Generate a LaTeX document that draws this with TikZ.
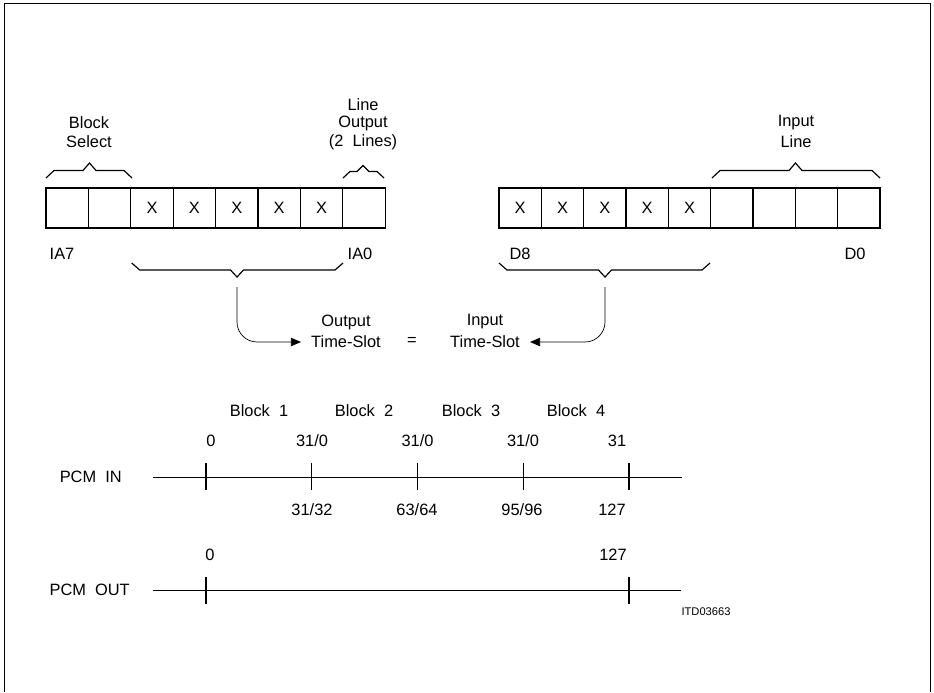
\documentclass[tikz,border=0pt]{standalone}
\usepackage{fontspec}
\setmainfont{Liberation Sans}
\usepackage{tikz}
\usetikzlibrary{arrows.meta,calc}
\tikzset{
  lbl/.style={font=\fontsize{14}{16}\selectfont,inner sep=0pt},
  small/.style={font=\fontsize{9.5}{11}\selectfont,inner sep=0pt},
  cell/.style={draw,line width=1pt,minimum width=1.272cm,minimum height=1.2cm,inner sep=0pt,outer sep=0pt,font=\fontsize{14}{16}\selectfont},
  brc/.style={line width=1pt},
  axis/.style={line width=0.8pt},
  tick/.style={line width=1pt},
  conn/.style={line width=0.6pt,rounded corners=0.6cm,shorten <=0.3cm,shorten >=0.3cm,-{Triangle[length=0.3cm,width=0.25cm]}}
}
\begin{document}
\begin{tikzpicture}[x=0.03cm,y=-0.03cm]
	\useasboundingbox (0,0) rectangle (934,692);
	\draw[line width=0.8pt] (4,692)--(4,3)--(930,3)--(930,692);
	% registers
	\foreach \i/\t in {0/,1/,2/X,3/X,4/X,5/X,6/X,7/}
	  \node[cell] (ia\i) at ({67.2+42.4*\i},208) {\t};
	\foreach \i/\t in {0/X,1/X,2/X,3/X,4/X,5/,6/,7/,8/}
	  \node[cell] (d\i) at ({520.2+42.33*\i},208) {\t};
	\node[lbl] (ia7) at (62,254) {IA7};
	\node[lbl] (ia0) at (360,254) {IA0};
	\node[lbl] (d8) at (520,254) {D8};
	\node[lbl] (d0) at (855,254) {D0};
	% upper braces
	\draw[brc] (46,178) -- ++(8,-7.5) -- (83,170.5) -- ++(6.5,-7.5) -- ++(6.5,7.5) -- (124,170.5) -- ++(8,7.5);
	\draw[brc] (343,178) -- ++(7,-6.5) -- (357,171.5) -- ++(6,-6) -- ++(6,6) -- (377,171.5) -- ++(7,6.5);
	\draw[brc] (712,178) -- ++(8,-7.5) -- (789,170.5) -- ++(6.5,-7.5) -- ++(6.5,7.5) -- (872,170.5) -- ++(8,7.5);
	\node[lbl] (blk) at (89,123) {Block};
	\node[lbl] (sel) at (89,142) {Select};
	\node[lbl] (lo1) at (363,105) {Line};
	\node[lbl] (lo2) at (363,123) {Output};
	\node[lbl] (lo3) at (363,142) {(2\ \ Lines)};
	\node[lbl] (il1) at (796,123) {Input};
	\node[lbl] (il2) at (796,142) {Line};
	% lower braces
	\draw[brc] (131.7,263) -- ++(8,7) -- (230.5,270) -- ++(6.5,7) -- ++(6.5,-7) -- (335,270) -- ++(8,-7);
	\draw[brc] (499,263) -- ++(8,7) -- (598.5,270) -- ++(6.5,7) -- ++(6.5,-7) -- (702,270) -- ++(8,-7);
	\coordinate (tipL) at (237,277);
	\coordinate (tipR) at (605,277);
	\node[lbl] (out1) at (346,322) {Output};
	\node[lbl] (out2) at (346,342) {Time-Slot};
	\node[lbl] (eq) at (412,341) {=};
	\node[lbl] (in1) at (485,322) {Input};
	\node[lbl] (in2) at (485,342) {Time-Slot};
	\draw[conn] (tipL) |- (out2.west);
	\draw[conn] (tipR) |- (in2.east);
	% PCM IN
	\node[lbl,anchor=east] (pin) at (122,477) {PCM\ \ IN};
	\coordinate (ain) at (153,477);
	\coordinate (bin) at (682,477);
	\draw[axis] (ain) -- (bin);
	\foreach \i in {0,...,4}
	  \draw[tick] ({206+105.75*\i},463) -- ({206+105.75*\i},490);
	\foreach \x/\n in {259/1,364/2,471/3,576/4}
	  \node[lbl] (blk\n) at (\x,411) {Block\ \ \n};
	\node[lbl] (t0) at (211,441) {0};
	\node[lbl] (t1) at (312,441) {31/0};
	\node[lbl] (t2) at (417.5,441) {31/0};
	\node[lbl] (t3) at (523,441) {31/0};
	\node[lbl] (t4) at (617,441) {31};
	\node[lbl] (b1) at (312,510) {31/32};
	\node[lbl] (b2) at (417,510) {63/64};
	\node[lbl] (b3) at (522,510) {95/96};
	\node[lbl] (b4) at (612,510) {127};
	% PCM OUT
	\node[lbl,anchor=east] (pout) at (130,590) {PCM\ \ OUT};
	\coordinate (aout) at (153,590);
	\coordinate (bout) at (681,590);
	\draw[axis] (aout) -- (bout);
	\draw[tick] (206,577) -- (206,604);
	\draw[tick] (629,577) -- (629,604);
	\node[lbl] (o0) at (210,555) {0};
	\node[lbl] (o1) at (613,555) {127};
	\node[small] (itd) at (706,612) {ITD03663};
\end{tikzpicture}
\end{document}
